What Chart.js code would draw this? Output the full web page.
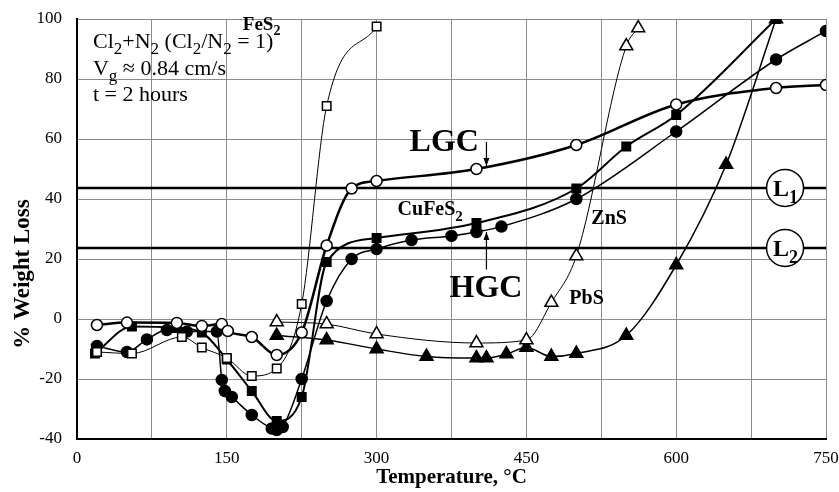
<!DOCTYPE html>
<html>
<head>
<meta charset="utf-8">
<script src="https://cdn.jsdelivr.net/npm/chart.js@4.4.1/dist/chart.umd.min.js"></script>
<style>
  html, body { margin: 0; padding: 0; background: #fff; }
  #wrap { width: 839px; height: 492px; }
</style>
</head>
<body>
<div id="wrap"><canvas id="weightLoss" width="839" height="492"></canvas></div>
<script>
// Chlorination weight loss vs temperature, Cl2+N2 atmosphere

// FeS2 (open squares)
const fes2Temp = [20, 55, 105, 125, 150, 175, 200, 225, 250, 300];
const fes2Loss = [-11, -11.5, -6, -9.5, -13, -19, -16.5, 5, 71, 97.5];

// CuFeS2 LGC (open circles)
const lgcTemp = [20, 50, 100, 125, 145, 151, 175, 200, 225, 250, 275, 300, 400, 500, 600, 700, 750];
const lgcLoss = [-2, -1.2, -1.3, -2.3, -1.7, -4, -6, -12, -4.5, 24.5, 43.5, 46, 50, 58, 71.5, 77, 78];

// CuFeS2 (filled squares)
const cuSqTemp = [18, 55, 100, 125, 150, 175, 200, 225, 250, 300, 400, 500, 550, 600, 700];
const cuSqLoss = [-11.5, -2.5, -3, -4.5, -13.5, -24, -34, -26, 19, 27, 32, 43.5, 57.5, 68, 100];

// CuFeS2 HGC (filled circles)
const hgcTemp = [20, 50, 70, 90, 110, 140, 145, 148, 155, 175, 195, 200, 206, 225, 250, 275, 300, 335, 375, 400, 425, 500, 600, 700, 750];
const hgcLoss = [-9, -11, -6.8, -3.7, -4.2, -4.2, -20.3, -24, -26, -32, -36.5, -37, -36, -20, 6, 20, 23.3, 26.3, 27.7, 29, 30.8, 40, 62.5, 86.5, 96];

// ZnS (open triangles)
const znsTemp = [200, 250, 300, 400, 450, 475, 500, 550, 562];
const znsLoss = [-1, -1.7, -5, -8, -7, 5.5, 21, 91, 97];

// PbS (filled triangles)
const pbsTemp = [200, 250, 300, 350, 400, 410, 430, 450, 475, 500, 550, 600, 650, 700];
const pbsLoss = [-5.5, -7, -10, -12.5, -13, -13, -11.7, -9.5, -12.5, -11.5, -5.5, 18, 51.5, 100];

// reference levels
const levelNames = ['L_1', 'L_2'];
const levelValues = [43.7, 23.7];

const xTicks = [0, 150, 300, 450, 600, 750];

const pts = (xs, ys) => xs.map((x, i) => ({ x: x, y: ys[i] }));

function series(label, xs, ys, style, open, width, radius) {
    return {
        label: label,
        data: pts(xs, ys),
        showLine: true,
        borderColor: '#000',
        borderWidth: width,
        backgroundColor: open ? '#fff' : '#000',
        pointBackgroundColor: open ? '#fff' : '#000',
        pointBorderColor: '#000',
        pointBorderWidth: 1.5,
        pointStyle: style,
        pointRadius: radius,
        cubicInterpolationMode: 'monotone'
    };
}

function levelLine(value) {
    return {
        data: [{ x: 0, y: value }, { x: 750, y: value }],
        showLine: true,
        borderColor: '#000',
        borderWidth: 2.5,
        pointRadius: 0,
        order: 10
    };
}

const serif = '"Liberation Serif", "Times New Roman", serif';

// draws text with "_x" as a subscript character
function drawRich(ctx, text, x, y, size, bold) {
    const weight = bold ? 'bold ' : '';
    let cx = x;
    for (let i = 0; i < text.length; i++) {
        let ch = text[i];
        let sub = false;
        if (ch === '_') { ch = text[++i]; sub = true; }
        ctx.font = weight + (sub ? Math.round(size * 0.75) : size) + 'px ' + serif;
        ctx.fillText(ch, cx, sub ? y + size * 0.28 : y);
        cx += ctx.measureText(ch).width;
    }
}

const notes = [
    { t: 'Cl_2+N_2 (Cl_2/N_2 = 1)', x: 16, y: 90.3, size: 22, bold: false },
    { t: 'V_g \u2248 0.84 cm/s', x: 16, y: 81.3, size: 22, bold: false },
    { t: 't = 2 hours', x: 16, y: 72.7, size: 22, bold: false },
    { t: 'FeS_2', x: 166, y: 96.5, size: 19, bold: true },
    { t: 'LGC', x: 333, y: 56, size: 32, bold: true },
    { t: 'CuFeS_2', x: 321, y: 34.7, size: 20, bold: true },
    { t: 'HGC', x: 373, y: 7.3, size: 32, bold: true },
    { t: 'ZnS', x: 515, y: 31.7, size: 20, bold: true },
    { t: 'PbS', x: 493, y: 5, size: 20, bold: true }
];

const arrows = [
    { x: 410, from: 59, to: 51 },
    { x: 410, from: 16.5, to: 29 }
];

const annotate = {
    id: 'annotate',
    afterDatasetsDraw(chart) {
        const ctx = chart.ctx;
        const xs = chart.scales.x, ys = chart.scales.y;
        ctx.save();
        ctx.fillStyle = '#000';
        ctx.strokeStyle = '#000';
        ctx.textBaseline = 'alphabetic';
        ctx.textAlign = 'left';
        notes.forEach(n => drawRich(ctx, n.t, xs.getPixelForValue(n.x), ys.getPixelForValue(n.y), n.size, n.bold));

        // arrows
        ctx.lineWidth = 1.2;
        arrows.forEach(a => {
            const px = xs.getPixelForValue(a.x);
            const y0 = ys.getPixelForValue(a.from), y1 = ys.getPixelForValue(a.to);
            const dir = y1 > y0 ? 1 : -1;
            ctx.beginPath();
            ctx.moveTo(px, y0);
            ctx.lineTo(px, y1);
            ctx.stroke();
            ctx.beginPath();
            ctx.moveTo(px, y1);
            ctx.lineTo(px - 3, y1 - dir * 8);
            ctx.lineTo(px + 3, y1 - dir * 8);
            ctx.closePath();
            ctx.fill();
        });

        // circled level labels
        levelValues.forEach((v, i) => {
            const px = xs.getPixelForValue(709), py = ys.getPixelForValue(v);
            ctx.beginPath();
            ctx.arc(px, py, 18.5, 0, Math.PI * 2);
            ctx.fillStyle = '#fff';
            ctx.fill();
            ctx.lineWidth = 1.5;
            ctx.stroke();
            ctx.fillStyle = '#000';
            drawRich(ctx, levelNames[i], px - 12, py + 8, 24, true);
        });

        // y axis title, set a little below the middle of the axis
        ctx.translate(23, ys.getPixelForValue(15));
        ctx.rotate(-Math.PI / 2);
        ctx.textAlign = 'center';
        ctx.textBaseline = 'middle';
        ctx.font = 'bold 23px ' + serif;
        ctx.fillText('% Weight Loss', 0, 0);
        ctx.restore();
    }
};

new Chart(document.getElementById('weightLoss'), {
    type: 'scatter',
    data: {
        datasets: [
            levelLine(levelValues[0]),
            levelLine(levelValues[1]),
            series('FeS2', fes2Temp, fes2Loss, 'rect', true, 1, 6),
            series('LGC', lgcTemp, lgcLoss, 'circle', true, 2.5, 5.5),
            series('CuFeS2', cuSqTemp, cuSqLoss, 'rect', false, 2, 6),
            series('HGC', hgcTemp, hgcLoss, 'circle', false, 1.5, 5.5),
            series('ZnS', znsTemp, znsLoss, 'triangle', true, 1, 7.5),
            series('PbS', pbsTemp, pbsLoss, 'triangle', false, 1.5, 7.5)
        ]
    },
    options: {
        responsive: false,
        animation: false,
        layout: { padding: { top: 19, right: 13, left: 0, bottom: 0 } },
        plugins: {
            legend: { display: false },
            tooltip: { enabled: false }
        },
        scales: {
            x: {
                type: 'linear',
                min: 0,
                max: 750,
                afterBuildTicks: s => { s.ticks = []; for (let v = 0; v <= 750; v += 75) s.ticks.push({ value: v }); },
                afterFit: s => { s.height = 53; s.paddingLeft = 0; s.paddingRight = 0; },
                ticks: {
                    color: '#000',
                    font: { family: serif, size: 17 },
                    maxRotation: 0,
                    padding: 9,
                    callback: v => xTicks.includes(v) ? v : ''
                },
                grid: { color: '#8c8c8c', lineWidth: 1, drawTicks: false },
                border: { color: '#000', width: 2 },
                title: {
                    display: true,
                    text: 'Temperature, \u00B0C',
                    color: '#000',
                    font: { family: serif, size: 21, weight: 'bold' },
                    padding: { top: 0, bottom: 2 }
                }
            },
            y: {
                min: -40,
                max: 100,
                afterFit: s => { s.width = 77; s.paddingTop = 0; s.paddingBottom = 0; },
                ticks: {
                    stepSize: 20,
                    color: '#000',
                    font: { family: serif, size: 17 },
                    padding: 15
                },
                grid: { color: '#8c8c8c', lineWidth: 1, drawTicks: false },
                border: { color: '#000', width: 2 }
            }
        }
    },
    plugins: [annotate]
});
</script>
</body>
</html>
